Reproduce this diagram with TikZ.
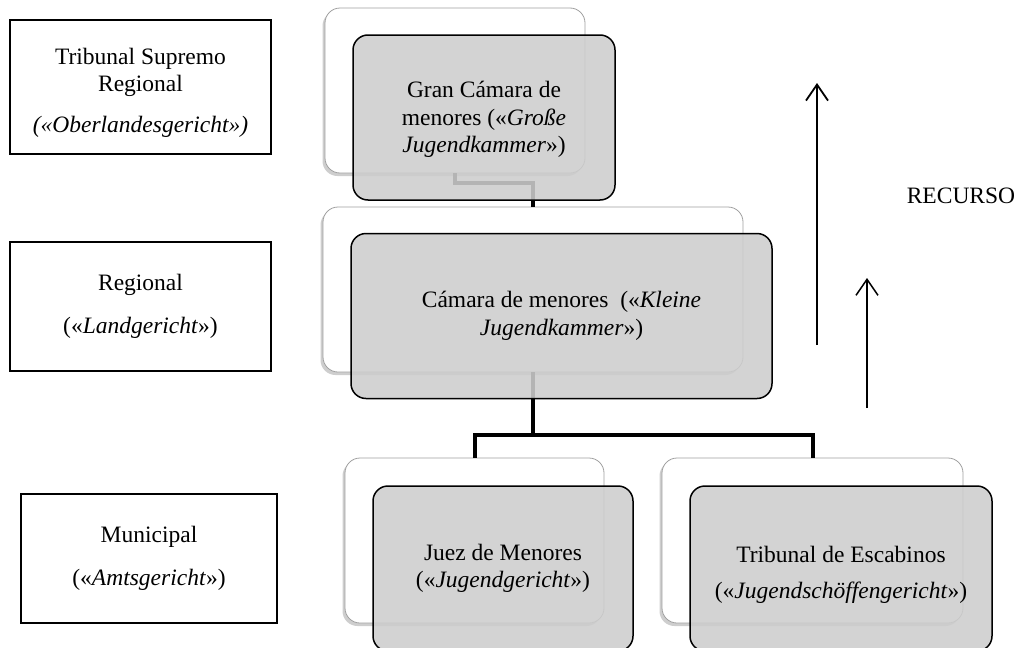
\documentclass[tikz,border=0pt]{standalone}
\usepackage{fontspec}
\setmainfont{Liberation Serif}
\usetikzlibrary{arrows.meta,shadows}
\definecolor{boxgray}{RGB}{205,205,205}
\definecolor{wboxline}{RGB}{160,160,160}
\begin{document}
\begin{tikzpicture}[x=1pt,y=-1pt,
  every node/.style={font=\fontsize{23.5}{27.5}\selectfont},
  wbox/.style={draw=wboxline, line width=0.8pt, fill=white, rounded corners=15pt,
    minimum height=165pt, inner sep=0pt,
    drop shadow={shadow xshift=-2.5pt, shadow yshift=-3pt, opacity=0.35, fill=black!55}},
  gbox/.style={draw=black, line width=1.5pt, fill=boxgray, fill opacity=0.88, text opacity=1,
    rounded corners=15pt, minimum height=165pt, inner sep=0pt, align=center},
  lbox/.style={draw=black, line width=1.3pt, inner sep=0pt, align=center},
  conn/.style={draw=black, line width=4pt},
  uparrow/.style={draw=black, -{Straight Barb[length=16pt,width=22pt]}}
]
\useasboundingbox (0,0) rectangle (1018,648);

% level labels on the left
\node[lbox, minimum width=261pt, minimum height=134pt] (lvl1) at (140.5,87)
  {\rule{0pt}{27pt}Tribunal Supremo\\Regional\\[13pt]\textit{(«Oberlandesgericht»)}};
\node[lbox, minimum width=261pt, minimum height=129pt] (lvl2) at (140.5,306.5)
  {Regional\\[16pt](«\textit{Landgericht}»)};
\node[lbox, minimum width=256pt, minimum height=129pt] (lvl3) at (149,558.5)
  {Municipal\\[16pt](«\textit{Amtsgericht}»)};

% white back boxes
\node[wbox, minimum width=260pt] (tw) at (455,90.5) {};
\node[wbox, minimum width=420pt] (mw) at (533,289.5) {};
\node[wbox, minimum width=259pt] (lw) at (474.5,540.5) {};
\node[wbox, minimum width=301pt] (rw) at (812.5,540.5) {};

% connectors
\draw[conn] (tw.south) -- ++(0,10) -| (mw.north);
\coordinate (split) at (533,435);
\draw[conn] (mw.south) -- (split);
\draw[conn] (lw.north) |- (split) -| (rw.north);

% gray front boxes
\node[gbox, minimum width=262pt] (tg) at (484,117.5)
  {\rule{0pt}{20pt}Gran Cámara de\\menores («\textit{Große}\\\textit{Jugendkammer}»)};
\node[gbox, minimum width=421pt] (mg) at (561.5,316)
  {Cámara de menores~ («\textit{Kleine}\\\textit{Jugendkammer}»)};
\node[gbox, minimum width=260pt] (lg) at (503,568.5)
  {Juez de Menores\\(«\textit{Jugendgericht}»)};
\node[gbox, minimum width=302pt] (rg) at (841,568.5)
  {\rule{0pt}{29pt}Tribunal de Escabinos\\[9pt](«\textit{Jugendschöffengericht}»)};

% appeal arrows
\coordinate (a1s) at (817,345);
\coordinate (a1e) at (817,83);
\coordinate (a2s) at (867,408);
\coordinate (a2e) at (867,278);
\draw[uparrow, line width=1.8pt] (a1s) -- (a1e);
\draw[uparrow, line width=1.5pt] (a2s) -- (a2e);
\node[anchor=base] (rec) at (961,203) {RECURSO};
\end{tikzpicture}
\end{document}
